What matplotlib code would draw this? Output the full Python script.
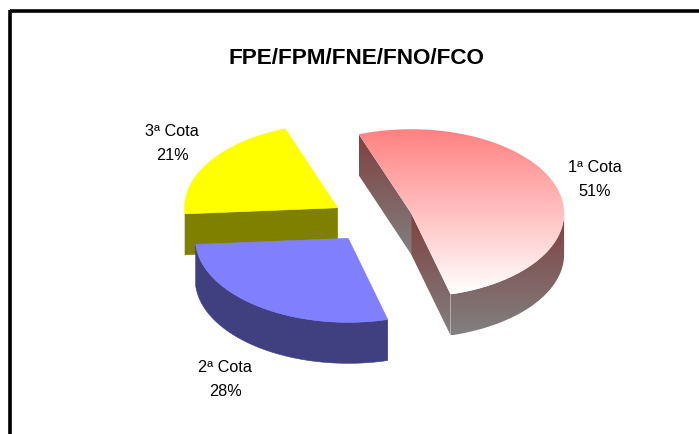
import numpy as np
import matplotlib
matplotlib.use('Agg')
import matplotlib.pyplot as plt
from matplotlib.colors import LinearSegmentedColormap
from matplotlib.patches import Polygon

title = 'FPE/FPM/FNE/FNO/FCO'
names = ['1ª Cota', '2ª Cota', '3ª Cota']
values = [51.4, 28.0, 20.6]

top_colors = [('#ff8080', '#ffffff'), ('#8080ff', '#8080ff'), ('#ffff00', '#ffff00')]
wall_colors = [('#804040', '#808080'), ('#404080', '#404080'), ('#808000', '#808000')]
label_pos = [(595, 180), (225, 380), (172, 143)]

# pie geometry, in pixels of the picture
cx, cy = 372, 220
rx, ry = 153, 84
explode = 41
depth = 41
start = 110

plt.rcParams['font.family'] = ['Liberation Sans', 'DejaVu Sans']

fig = plt.figure(figsize=(6.99, 4.34), dpi=100)
ax = fig.add_axes([0, 0, 1, 1])
ax.set_xlim(0, 699)
ax.set_ylim(434, 0)
ax.axis('off')


def project(center, ang):
    ang = np.radians(ang)
    return np.column_stack([center[0] + rx * np.cos(ang), center[1] - ry * np.sin(ang)])


def gradient_fill(pts, c_top, c_bottom, zorder):
    poly = Polygon(pts, closed=True, facecolor='none', edgecolor='none', transform=ax.transData)
    ax.add_patch(poly)
    if c_top == c_bottom:
        poly.set_facecolor(c_top)
        poly.set_edgecolor(c_top)
        poly.set_linewidth(0.4)
        poly.set_zorder(zorder)
        return
    cmap = LinearSegmentedColormap.from_list('g', [c_top, c_bottom])
    y0, y1 = pts[:, 1].min(), pts[:, 1].max()
    x0, x1 = pts[:, 0].min(), pts[:, 0].max()
    grad = np.linspace(0, 1, 256).reshape(-1, 1)
    im = ax.imshow(grad, cmap=cmap, extent=(x0, x1, y1, y0), aspect='auto', zorder=zorder)
    im.set_clip_path(poly)


def extrude(top_pts):
    low = top_pts[::-1] + np.array([0, depth])
    return np.vstack([top_pts, low])


fractions = np.array(values) / sum(values)
edges = start - 360 * np.concatenate([[0], np.cumsum(fractions)])
order = [2, 1, 0]

for i in order:
    a0, a1 = edges[i], edges[i + 1]
    mid = np.radians((a0 + a1) / 2)
    center = (cx + explode * np.cos(mid), cy - explode * ry / rx * np.sin(mid))
    c = np.array(center)
    angs = np.linspace(a0, a1, 200)
    arc = project(center, angs)
    z = 2 + order.index(i) * 10

    # radial walls that face the viewer
    if i == 0:
        gradient_fill(extrude(np.vstack([arc[0], c])), *wall_colors[i], z)
        gradient_fill(extrude(np.vstack([c, arc[-1]])), *wall_colors[i], z + 1)
    if i == 2:
        gradient_fill(extrude(np.vstack([arc[0], c])), *wall_colors[i], z)

    # outer wall, only the front half of the rim shows
    front = np.sin(np.radians(angs)) <= 0
    if front.any() and i != 2:
        gradient_fill(extrude(project(center, angs[front])), *wall_colors[i], z + 2)

    gradient_fill(np.vstack([c, arc]), *top_colors[i], z + 3)

for name, val, (x, y) in zip(names, values, label_pos):
    ax.text(x, y, f'{name}\n{val:.0f}%', ha='center', va='center', fontsize=11.7,
            color='black', linespacing=1.75, zorder=50)

ax.text(356, 58, title, ha='center', va='center', fontsize=16.2, fontweight='bold', zorder=50)

# chart frame, only top and left sides show
ax.plot([9.5, 699], [11, 11], color='black', lw=2.6, solid_capstyle='butt', zorder=60)
ax.plot([9.5, 9.5], [9.5, 434], color='black', lw=2.6, solid_capstyle='butt', zorder=60)

ax.set_xlim(0, 699)
ax.set_ylim(434, 0)
fig.savefig('out.png', dpi=100)
